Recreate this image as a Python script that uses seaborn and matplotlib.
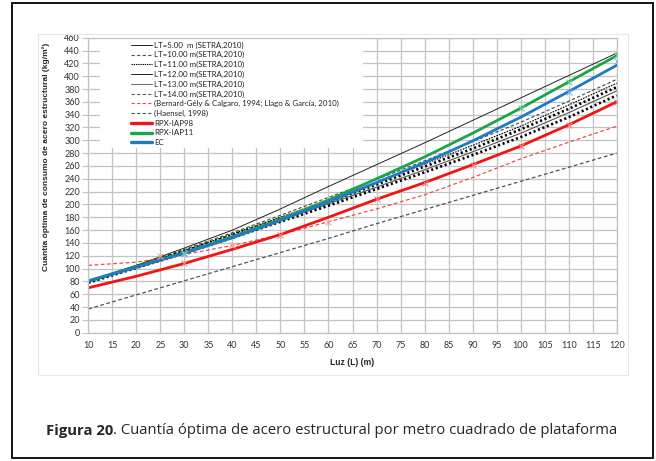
import matplotlib
matplotlib.use("Agg")
import matplotlib.pyplot as plt
from matplotlib.lines import Line2D
from matplotlib.patches import Rectangle
import seaborn as sns
import numpy as np
import pandas as pd

# ---------------- data ----------------
luz = [10, 20, 30, 40, 50, 60, 70, 80, 90, 100, 110, 120]

lt05 = [81, 105, 132, 160, 193, 228, 262, 296, 331, 366, 401, 436]
lt10 = [81, 105, 130, 156, 183, 211, 239, 268, 298, 328, 361, 395]
lt11 = [80, 104, 128, 154, 180, 207, 235, 263, 292, 322, 355, 389]
lt12 = [79, 103, 127, 152, 178, 204, 231, 259, 287, 317, 349, 383]
lt13 = [79, 102, 126, 150, 175, 201, 227, 254, 282, 311, 343, 377]
lt14 = [78, 101, 124, 148, 173, 198, 224, 250, 277, 305, 336, 370]
bernard = [105, 110, 122, 136, 153, 173, 193, 215, 242, 271, 297, 322]
haensel = [37, 59, 81, 103, 125, 147, 170, 192, 214, 236, 258, 280]
rpx98 = [70, 88, 108, 130, 153, 180, 208, 234, 262, 291, 324, 360]
rpx11 = [81, 103, 125, 150, 177, 207, 240, 274, 311, 350, 391, 432]
ec = [80, 102, 124, 148, 175, 204, 234, 265, 299, 336, 376, 417]

# point markers (x)
rpx98_pts_x = [30, 50, 70, 80, 90, 100, 110, 120]
rpx98_pts_y = [108, 153, 208, 234, 262, 291, 324, 360]
bern_pts_x = [25, 40, 60]
bern_pts_y = [119, 136, 173]
rpx11_pts_x = [30, 100, 110, 120]
rpx11_pts_y = [125, 350, 391, 433]
ec_pts_x = [30, 110, 120]
ec_pts_y = [123, 376, 424]

labels = [
    "LT=5.00  m (SETRA,2010)",
    "LT=10.00 m(SETRA,2010)",
    "LT=11.00 m(SETRA,2010)",
    "LT=12.00 m(SETRA,2010)",
    "LT=13.00 m(SETRA,2010)",
    "LT=14.00 m(SETRA,2010)",
    "(Bernard-Gély & Calgaro, 1994; Llago & García, 2010)",
    "(Haensel, 1998)",
    "RPX-IAP98",
    "RPX-IAP11",
    "EC",
]
x_ticks = list(range(10, 121, 5))
y_ticks = list(range(0, 461, 20))
x_label = "Luz (L) (m)"
y_label = "Cuantía óptima de consumo de acero estructural (kg/m²)"
caption_bold = "Figura 20"
caption_rest = ". Cuantía óptima de acero estructural por metro cuadrado de plataforma"

# ---------------- style ----------------
sns.set_theme(style="white")
plt.rcParams["font.family"] = ["Lato", "DejaVu Sans"]

W, H = 656, 461
fig = plt.figure(figsize=(W / 100, H / 100), dpi=100)
fig.patch.set_facecolor("white")

# outer frame
fig.add_artist(Rectangle((12 / W, 1 - 458 / H), (653 - 12) / W, (458 - 3) / H,
                         transform=fig.transFigure, fill=False, edgecolor="black",
                         linewidth=1.3))
# chart area frame (faint)
fig.add_artist(Rectangle((38 / W, 1 - 375 / H), (628 - 38) / W, (375 - 34) / H,
                         transform=fig.transFigure, fill=False, edgecolor="#e6e6e6",
                         linewidth=0.8))

x0, x1 = 88.3, 616.7
y0, y1 = 332.7, 37.7
ax = fig.add_axes([x0 / W, 1 - y0 / H, (x1 - x0) / W, (y0 - y1) / H])
ax.set_facecolor("white")

gridc = "#c3c3c3"
ax.set_axisbelow(True)
ax.grid(True, color=gridc, linewidth=0.9)
for s in ax.spines.values():
    s.set_color(gridc)
    s.set_linewidth(0.9)

# white box behind the legend
ax.add_patch(Rectangle((0.022, 0.626), 0.498, 0.374, transform=ax.transAxes,
                       facecolor="white", edgecolor="none", zorder=1))

def line(y, **kw):
    sns.lineplot(x=luz, y=y, ax=ax, legend=False, **kw)

line(lt05, color="#222222", linewidth=0.7)
line(lt10, color="#444444", linewidth=0.8, linestyle=(0, (3, 2)))
line(lt11, color="black", linewidth=0.8, linestyle=(0, (1.5, 1)))
line(lt12, color="black", linewidth=1.9, linestyle=(0, (0.8, 1.0)))
line(lt13, color="#555555", linewidth=0.8)
line(lt14, color="black", linewidth=1.9, linestyle=(0, (0.8, 1.0)))
line(bernard, color="#e8504a", linewidth=0.9, linestyle=(0, (3, 2)))
line(haensel, color="#44546a", linewidth=0.9, linestyle=(0, (3, 2)))
line(rpx98, color="#f01414", linewidth=2.0)
line(rpx11, color="#1aa54a", linewidth=2.0)
line(ec, color="#1f78c8", linewidth=2.0)

sns.scatterplot(x=rpx98_pts_x, y=rpx98_pts_y, ax=ax, marker="x", color="#f28080",
                s=18, linewidth=0.8, legend=False, zorder=4)
sns.scatterplot(x=bern_pts_x, y=bern_pts_y, ax=ax, marker="x", color="#f4a0a0",
                s=18, linewidth=0.8, legend=False, zorder=4)
sns.scatterplot(x=rpx11_pts_x, y=rpx11_pts_y, ax=ax, marker="x", color="#6fcf8f",
                s=18, linewidth=0.8, legend=False, zorder=4)
sns.scatterplot(x=ec_pts_x, y=ec_pts_y, ax=ax, marker="x", color="#7fb8e6",
                s=18, linewidth=0.8, legend=False, zorder=4)

ax.set_xlim(10, 120)
ax.set_ylim(0, 460)
ax.set_xticks(x_ticks)
ax.set_yticks(y_ticks)
ax.tick_params(axis="y", length=4, color=gridc, width=0.8, pad=2,
               labelsize=6.5, labelcolor="#333333", left=True)
ax.tick_params(axis="x", length=0, pad=6, labelsize=6.5, labelcolor="#333333")

ax.set_xlabel(x_label, fontsize=6.2, fontweight="bold", family="Liberation Sans",
              labelpad=6)
ax.set_ylabel(y_label, fontsize=6.0, fontweight="bold", family="Liberation Sans")
ax.yaxis.set_label_coords(-(x0 - 50) / (x1 - x0), (y0 - 157) / (y0 - y1))

# legend
handles = [
    Line2D([], [], color="#222222", linewidth=0.7),
    Line2D([], [], color="#555555", linewidth=0.8, linestyle=(0, (3, 2))),
    Line2D([], [], color="black", linewidth=0.8, linestyle=(0, (1.2, 0.8))),
    Line2D([], [], color="#222222", linewidth=0.7),
    Line2D([], [], color="#777777", linewidth=0.8),
    Line2D([], [], color="#555555", linewidth=0.8, linestyle=(0, (3, 2))),
    Line2D([], [], color="#e8504a", linewidth=0.8, linestyle=(0, (3, 2))),
    Line2D([], [], color="#44546a", linewidth=0.8, linestyle=(0, (3, 2))),
    Line2D([], [], color="#f01414", linewidth=2.4),
    Line2D([], [], color="#1aa54a", linewidth=2.4),
    Line2D([], [], color="#1f78c8", linewidth=2.4),
]
leg = ax.legend(handles, labels, loc="upper left",
                bbox_to_anchor=((130.7 - x0) / (x1 - x0), (y0 - 41.5) / (y0 - y1)),
                frameon=False, fontsize=5.7, handlelength=2.75, handletextpad=0.2,
                labelspacing=0.33, borderpad=0, borderaxespad=0)
for t in leg.get_texts():
    t.set_color("#222222")

# caption
t1 = fig.text(46 / W, 1 - 438 / H, caption_bold, fontsize=10.75, fontweight="bold",
              family="Open Sans", va="bottom", ha="left")
ax.annotate(caption_rest, xy=(1, 0), xycoords=t1, va="bottom", ha="left",
            fontsize=10.75, family="Open Sans", annotation_clip=False)

fig.savefig("out.png", dpi=100, facecolor="white")
